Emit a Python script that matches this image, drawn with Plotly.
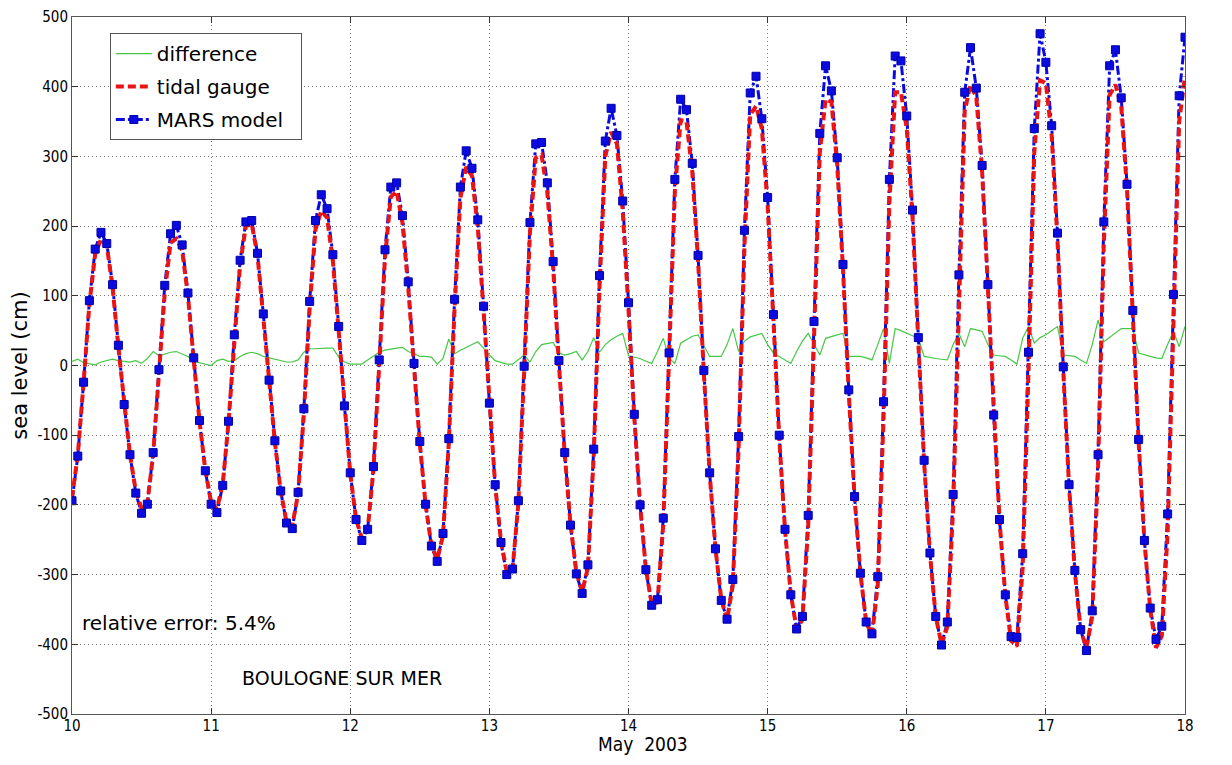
import plotly.graph_objects as go

# hourly samples, 10 May 2003 00:00 -> 18 May 2003 00:00 (day of month)
start_day = 10
hours = list(range(193))
days = [start_day + h / 24 for h in hours]

mars_model = [
    -194, -130, -24, 93, 167, 191, 175, 116, 29, -56, -128, -183, -212, -199, -125, -6,
    115, 189, 201, 173, 104, 11, -79, -151, -199, -211, -172, -80, 44, 151, 206, 208,
    161, 74, -21, -108, -180, -226, -234, -182, -62, 92, 208, 245, 225, 159, 56, -58,
    -154, -221, -251, -235, -145, 8, 166, 256, 262, 215, 120, 3, -109, -199, -259, -281,
    -241, -105, 95, 256, 308, 283, 209, 85, -54, -171, -254, -300, -292, -194, -1, 205,
    318, 320, 262, 149, 7, -125, -229, -299, -327, -286, -120, 129, 322, 369, 330, 236,
    90, -70, -200, -293, -344, -336, -219, 18, 267, 382, 367, 290, 158, -7, -154, -263,
    -337, -364, -307, -102, 194, 391, 415, 354, 241, 73, -100, -235, -329, -378, -360, -215,
    63, 333, 430, 394, 298, 145, -35, -188, -298, -368, -385, -303, -52, 267, 444, 437,
    358, 223, 40, -136, -269, -360, -401, -368, -185, 130, 392, 456, 398, 287, 116, -71,
    -221, -329, -389, -390, -270, 19, 340, 476, 435, 344, 190, -2, -171, -294, -379, -409,
    -352, -128, 206, 430, 453, 384, 260, 79, -106, -251, -348, -393, -374, -213, 102, 387,
    471,
]

tidal_gauge = [
    -190, -128, -25, 88, 160, 181, 172, 112, 26, -58, -128, -180, -205, -197, -128, -12,
    104, 176, 182, 165, 100, 8, -80, -150, -196, -206, -170, -82, 38, 145, 200, 203,
    158, 70, -24, -110, -180, -224, -230, -184, -70, 82, 195, 222, 212, 150, 50, -62,
    -155, -220, -248, -236, -150, 0, 155, 242, 250, 205, 112, -2, -112, -200, -258, -278,
    -244, -112, 82, 240, 285, 272, 198, 78, -58, -172, -252, -296, -292, -198, -10, 190,
    298, 302, 248, 140, 2, -128, -228, -296, -325, -290, -130, 112, 300, 335, 318, 222,
    80, -75, -200, -292, -342, -340, -228, 5, 250, 352, 350, 278, 150, -12, -155, -262,
    -335, -365, -315, -118, 170, 360, 372, 340, 230, 65, -104, -236, -328, -378, -365, -230,
    40, 305, 382, 378, 288, 138, -40, -190, -298, -368, -388, -315, -75, 232, 392, 392,
    340, 212, 32, -140, -270, -360, -400, -375, -205, 100, 365, 403, 385, 278, 108, -75,
    -222, -330, -395, -403, -290, -10, 305, 409, 405, 330, 180, -8, -174, -296, -380, -405,
    -360, -150, 175, 388, 403, 372, 252, 72, -110, -252, -350, -405, -388, -240, 70, 350,
    415,
]

difference = [
    6, 9, 4, 2, 1, 5, 7, 9, 7, 6, 5, 7, 3, 10, 20, 14,
    17, 19, 20, 17, 13, 6, 4, 2, 0, 7, 9, 6, 7, 13, 17, 19,
    17, 13, 11, 9, 7, 5, 5, 8, 19, 24, 24, 25, 25, 25, 12, 5,
    2, 2, 2, 8, 14, 19, 22, 24, 25, 26, 20, 17, 13, 13, 12, 2,
    10, 38, 17, 22, 26, 30, 34, 25, 15, 7, 5, 2, 2, 8, 15, 5,
    20, 30, 31, 33, 18, 15, 17, 20, 8, 20, 40, 19, 30, 37, 42, 46,
    14, 12, 10, 6, 3, 20, 39, 10, 3, 32, 37, 42, 44, 28, 13, 13,
    13, 30, 53, 20, 35, 41, 44, 46, 30, 18, 13, 8, 3, 20, 35, 46,
    30, 15, 39, 42, 44, 46, 13, 13, 13, 11, 8, 30, 53, 3, 53, 50,
    46, 43, 39, 13, 11, 10, 9, 8, 30, 46, 27, 53, 51, 49, 30, 15,
    14, 13, 8, 2, 39, 56, 32, 40, 44, 50, 56, 15, 14, 13, 8, 3,
    30, 65, 34, 40, 46, 53, 53, 53, 18, 15, 13, 11, 10, 30, 49, 27,
    56,
]

x_ticks = [10, 11, 12, 13, 14, 15, 16, 17, 18]
y_ticks = [-500, -400, -300, -200, -100, 0, 100, 200, 300, 400, 500]

legend_names = ["difference", "tidal gauge", "MARS model"]
x_title = "May&nbsp;&nbsp;2003"
y_title = "sea level (cm)"
error_text = "relative error: 5.4%"
station_text = "BOULOGNE SUR MER"

BLUE = "rgb(10,10,225)"
RED = "rgb(235,20,20)"
GREEN = "rgb(70,200,70)"
TEXT_FONT = "DejaVu Sans, Verdana, sans-serif"
NARROW_FONT = "Liberation Sans Narrow, DejaVu Sans Condensed, Arial Narrow, sans-serif"

fig = go.Figure()

fig.add_trace(go.Scatter(
    x=days, y=difference, mode="lines", name=legend_names[0],
    line=dict(color=GREEN, width=1.2), legendrank=1, legendgroup="g1",
))
fig.add_trace(go.Scatter(
    x=days, y=mars_model, mode="lines", name=legend_names[2],
    line=dict(color=BLUE, width=3, dash="dashdot"), showlegend=False,
))
fig.add_trace(go.Scatter(
    x=days, y=tidal_gauge, mode="lines", name=legend_names[1],
    line=dict(color=RED, width=4, dash="8px,4px"), legendrank=2, legendgroup="g2",
))
fig.add_trace(go.Scatter(
    x=days, y=mars_model, mode="markers", name=legend_names[2],
    marker=dict(symbol="square", size=8, color=BLUE,
                line=dict(color="rgb(0,0,170)", width=1)),
    showlegend=False,
))
# legend sample for the model (line + marker), no data of its own
fig.add_trace(go.Scatter(
    x=[None], y=[None], mode="lines+markers", name=legend_names[2] + "\u00a0\u00a0",
    line=dict(color=BLUE, width=3, dash="dashdot"),
    marker=dict(symbol="square", size=8, color=BLUE,
                line=dict(color="rgb(0,0,170)", width=1)),
    legendrank=3, legendgroup="g3",
))

axis_common = dict(
    showline=True, linecolor="#555555", linewidth=1, mirror="ticks",
    ticks="inside", ticklen=6, tickcolor="#333333",
    showgrid=True, gridcolor="rgba(0,0,0,0.55)", griddash="1px,3px", gridwidth=1,
    zeroline=False, automargin=False, ticklabeloverflow="allow",
    tickfont=dict(family=NARROW_FONT, size=15, color="black"),
)

fig.update_xaxes(
    range=[10, 18], tickvals=x_ticks, ticktext=[str(t) for t in x_ticks],
    ticklabelstandoff=-2,
    **axis_common,
)
fig.update_yaxes(
    range=[-500, 500], tickvals=y_ticks, ticktext=[str(t) for t in y_ticks],
    title=dict(text=y_title, standoff=10,
               font=dict(family=TEXT_FONT, size=21, color="black")),
    **axis_common,
)

fig.add_annotation(
    x=0.513, y=-0.043, xref="paper", yref="paper", xanchor="center", yanchor="middle",
    text=x_title, showarrow=False,
    font=dict(family=NARROW_FONT, size=19, color="black"),
)
fig.add_annotation(
    x=0.007, y=0.130, xref="paper", yref="paper", xanchor="left", yanchor="middle",
    text=error_text, showarrow=False,
    font=dict(family=TEXT_FONT, size=20, color="black"),
)
fig.add_annotation(
    x=0.151, y=0.052, xref="paper", yref="paper", xanchor="left", yanchor="middle",
    text=station_text, showarrow=False,
    font=dict(family=TEXT_FONT, size=19, color="black"),
)

fig.update_layout(
    width=1216, height=749,
    margin=dict(l=64, r=39, t=9, b=43),
    paper_bgcolor="white", plot_bgcolor="white",
    showlegend=True,
    legend=dict(
        x=0.034, y=0.977, xanchor="left", yanchor="top",
        bgcolor="white", bordercolor="#555555", borderwidth=1,
        font=dict(family=TEXT_FONT, size=20, color="black"),
        itemwidth=36, tracegroupgap=4,
    ),
)

fig.write_html("out.html")
